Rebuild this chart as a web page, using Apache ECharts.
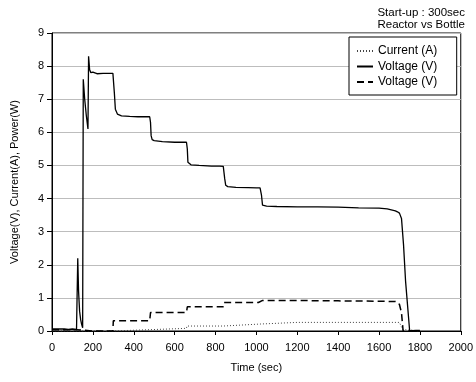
<!DOCTYPE html>
<html>
<head>
<meta charset="utf-8">
<script src="https://cdn.jsdelivr.net/npm/echarts@6/dist/echarts.min.js"></script>
<style>
html,body{margin:0;padding:0;background:#fff;}
#c{width:476px;height:382px;}
</style>
</head>
<body>
<div id="c"></div>
<script>
// Current (A) - dotted
const currentT = [0, 100, 200, 298, 300, 478, 480, 658, 660, 838, 840, 1018, 1025, 1200, 1400, 1600, 1700, 1708, 1715, 1720, 1740, 1760, 1780, 1800];
const currentV = [0.0, 0.0, 0.0, 0.0, 0.04, 0.04, 0.08, 0.08, 0.15, 0.15, 0.21, 0.21, 0.26, 0.26, 0.26, 0.26, 0.26, 0.2, 0.05, 0.0, 0.03, 0.03, 0.01, 0.0];

// Voltage (V) - solid
const voltT = [0, 20, 40, 60, 80, 100, 120, 124, 126, 130, 135, 140, 145, 150, 153, 160, 168, 176, 179, 184, 190, 200, 220, 250, 280, 298, 300, 302, 305, 310, 320, 340, 380, 420, 460, 478, 480, 482, 485, 490, 500, 540, 600, 640, 658, 660, 662, 665, 670, 680, 720, 780, 820, 838, 840, 842, 845, 850, 860, 900, 960, 1000, 1018, 1020, 1022, 1025, 1030, 1050, 1100, 1200, 1300, 1400, 1500, 1600, 1640, 1660, 1680, 1690, 1700, 1710, 1715, 1720, 1730, 1750, 1780, 1800];
const voltV = [0.06, 0.06, 0.06, 0.06, 0.05, 0.06, 0.05, 0.06, 2.2, 1.2, 0.6, 0.35, 0.2, 0.1, 7.6, 7.0, 6.5, 6.1, 8.3, 7.9, 7.8, 7.82, 7.77, 7.78, 7.78, 7.78, 7.8, 7.8, 7.2, 6.7, 6.55, 6.5, 6.48, 6.47, 6.47, 6.47, 6.47, 6.3, 5.9, 5.78, 5.75, 5.72, 5.7, 5.7, 5.7, 5.7, 5.5, 5.1, 5.05, 5.02, 5.0, 4.98, 4.98, 4.97, 4.97, 4.97, 4.6, 4.4, 4.36, 4.34, 4.33, 4.32, 4.32, 4.32, 4.32, 4.1, 3.8, 3.77, 3.76, 3.75, 3.75, 3.74, 3.72, 3.71, 3.69, 3.66, 3.63, 3.6, 3.56, 3.4, 3.0, 2.6, 1.5, 0.0, 0.02, 0.02, 0.02, 0.0];

// Voltage (V) - dashed (power)
const powerT = [0, 60, 120, 128, 200, 298, 300, 478, 482, 658, 662, 838, 842, 1010, 1028, 1200, 1400, 1600, 1680, 1690, 1700, 1710, 1718, 1760, 1800];
const powerV = [0.04, 0.04, 0.04, 0.0, 0.0, 0.0, 0.31, 0.31, 0.56, 0.56, 0.73, 0.73, 0.86, 0.86, 0.92, 0.92, 0.91, 0.9, 0.89, 0.88, 0.8, 0.55, 0.0, 0.0, 0.0];

const xTicks = [0, 200, 400, 600, 800, 1000, 1200, 1400, 1600, 1800, 2000];
const yTicks = [0, 1, 2, 3, 4, 5, 6, 7, 8, 9];
const titleLines = ['Start-up : 300sec', 'Reactor vs Bottle'];

function pairs(t, v) { return t.map((x, i) => [x, v[i]]); }

const FONT = 'Liberation Sans, Arial, sans-serif';
const chart = echarts.init(document.getElementById('c'), null, {renderer: 'canvas'});
chart.setOption({
  animation: false,
  backgroundColor: '#fff',
  textStyle: {fontFamily: FONT},
  graphic: titleLines.map((s, i) => ({
    type: 'text', right: 11, top: 7 + i * 12,
    style: {text: s, fontFamily: FONT, fontSize: 11.5, fill: '#000', textAlign: 'right'}
  })),
  grid: {left: 52, right: 11, top: 33, bottom: 51, show: true, borderColor: '#000', borderWidth: 1, backgroundColor: 'transparent'},
  legend: {
    orient: 'vertical',
    left: 349, top: 37,
    padding: [8, 16, 7, 7],
    itemWidth: 16, itemHeight: 10, itemGap: 3.5,
    backgroundColor: '#fff',
    borderColor: '#000', borderWidth: 1,
    itemStyle: {opacity: 0},
    textStyle: {fontFamily: FONT, fontSize: 12, color: '#000'},
    data: ['Current (A)', 'Voltage (V)', 'Voltage (V) ']
  },
  xAxis: {
    type: 'value', min: 0, max: 2000, interval: 200,
    name: 'Time (sec)', nameLocation: 'middle', nameGap: 31,
    nameTextStyle: {fontFamily: FONT, fontSize: 11, color: '#000'},
    axisLine: {show: true, onZero: false, lineStyle: {color: '#000', width: 1}},
    axisTick: {show: true, inside: false, length: 4, lineStyle: {color: '#000'}},
    axisLabel: {fontFamily: FONT, fontSize: 11, color: '#000', margin: 11, formatter: v => xTicks.includes(v) ? String(v) : ''},
    splitLine: {show: false}
  },
  yAxis: {
    type: 'value', min: 0, max: 9, interval: 1,
    name: 'Voltage(V), Current(A), Power(W)', nameLocation: 'middle', nameGap: 32, nameRotate: 90,
    nameTextStyle: {fontFamily: FONT, fontSize: 11, color: '#000'},
    axisLine: {show: true, lineStyle: {color: '#000', width: 1}},
    axisTick: {show: true, inside: false, length: 5, lineStyle: {color: '#000'}},
    axisLabel: {fontFamily: FONT, fontSize: 11, color: '#000', margin: 8, formatter: v => yTicks.includes(v) ? String(v) : ''},
    splitLine: {show: true, lineStyle: {color: '#bdbdbd', width: 1}}
  },
  series: [
    {name: 'Current (A)', type: 'line', symbol: 'none', z: 3,
     data: pairs(currentT, currentV),
     lineStyle: {color: '#444', width: 1, type: [1, 2]}, itemStyle: {color: '#444'}},
    {name: 'Voltage (V)', type: 'line', symbol: 'none', z: 4,
     data: pairs(voltT, voltV),
     lineStyle: {color: '#000', width: 1.3, type: 'solid'}, itemStyle: {color: '#000'}},
    {name: 'Voltage (V) ', type: 'line', symbol: 'none', z: 3,
     data: pairs(powerT, powerV),
     lineStyle: {color: '#000', width: 1.5, type: [7, 4]}, itemStyle: {color: '#000'}}
  ]
});
</script>
</body>
</html>
